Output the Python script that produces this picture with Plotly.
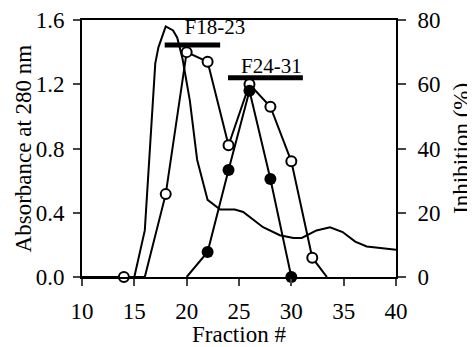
import plotly.graph_objects as go

# Absorbance at 280 nm (left axis)
abs_x = [10, 11, 12, 13, 14, 15, 16, 17, 17.3, 18, 18.7, 19.1, 19.6, 20.3, 21, 22, 23.2, 24.6, 25.4,
         27.3, 28.9, 30.2, 31.0, 32.4, 33.7, 34.9, 36.1, 37.2, 38.5, 40]
abs_y = [0, 0, 0, 0, 0, 0, 0.29, 1.33, 1.43, 1.56, 1.535, 1.49, 1.36, 1.10, 0.73, 0.48, 0.42, 0.42, 0.405,
         0.31, 0.26, 0.243, 0.243, 0.29, 0.31, 0.28, 0.22, 0.19, 0.18, 0.17]

# Inhibition (%) open circles (right axis)
open_x = [14, 18, 20, 22, 24, 26, 28, 30, 32]
open_y = [0, 25.8, 70, 67, 41, 60, 53, 36, 6]
open_line_x = [14, 16, 18, 20, 22, 24, 26, 28, 30, 32, 33.4]
open_line_y = [0, 0, 25.8, 70, 67, 41, 60, 53, 36, 6, 0]

# Inhibition (%) filled circles (right axis)
fill_x = [22, 24, 26, 28, 30]
fill_y = [7.8, 33.3, 58, 30.5, 0]
fill_line_x = [20, 22, 24, 26, 28, 30]
fill_line_y = [0, 7.8, 33.3, 58, 30.5, 0]

# Pooled fraction bars
bar_labels = ["F18-23", "F24-31"]
bar_start = [17.9, 23.95]
bar_end = [23.2, 31.1]
bar_level = [1.445, 1.24]
label_x = [22.7, 28.1]
label_y = [1.545, 1.30]

x_ticks = [10, 15, 20, 25, 30, 35, 40]
y_ticks = [0.0, 0.4, 0.8, 1.2, 1.6]
y2_ticks = [0, 20, 40, 60, 80]

x_title = "Fraction #"
y_title = "Absorbance at 280 nm"
y2_title = "Inhibition (%)"

FONT = "'Times New Roman', 'Liberation Serif', Times, serif"
FS = 23

fig = go.Figure()

fig.add_trace(go.Scatter(x=abs_x, y=abs_y, mode="lines",
                         line=dict(color="black", width=2), showlegend=False))

fig.add_trace(go.Scatter(x=open_line_x, y=open_line_y, mode="lines", yaxis="y2",
                         line=dict(color="black", width=2), showlegend=False))
fig.add_trace(go.Scatter(x=open_x, y=open_y, mode="markers", yaxis="y2",
                         marker=dict(symbol="circle", size=10, color="white",
                                     line=dict(color="black", width=2)),
                         showlegend=False, cliponaxis=False))

fig.add_trace(go.Scatter(x=fill_line_x, y=fill_line_y, mode="lines", yaxis="y2",
                         line=dict(color="black", width=2), showlegend=False))
fig.add_trace(go.Scatter(x=fill_x, y=fill_y, mode="markers", yaxis="y2",
                         marker=dict(symbol="circle", size=12, color="black"),
                         showlegend=False, cliponaxis=False))

for s, e, lv in zip(bar_start, bar_end, bar_level):
    fig.add_trace(go.Scatter(x=[s, e], y=[lv, lv], mode="lines",
                             line=dict(color="black", width=5), showlegend=False))

fig.add_trace(go.Scatter(x=label_x, y=label_y, mode="text", text=bar_labels,
                         textfont=dict(family=FONT, size=21, color="black"),
                         showlegend=False, cliponaxis=False))

# axis titles as annotations (paper coordinates)
fig.add_annotation(text=x_title, xref="paper", yref="paper", x=0.5, y=-0.225,
                   xanchor="center", yanchor="middle", showarrow=False,
                   font=dict(family=FONT, size=FS, color="black"))
fig.add_annotation(text=y_title, xref="paper", yref="paper", x=-0.185, y=0.5,
                   xanchor="center", yanchor="middle", showarrow=False, textangle=-90,
                   font=dict(family=FONT, size=FS, color="black"))
fig.add_annotation(text=y2_title, xref="paper", yref="paper", x=1.208, y=0.5,
                   xanchor="center", yanchor="middle", showarrow=False, textangle=-90,
                   font=dict(family=FONT, size=FS, color="black"))

fig.update_layout(
    width=467, height=339,
    margin=dict(l=74, r=79, t=12, b=70),
    paper_bgcolor="white", plot_bgcolor="white",
    font=dict(family=FONT, size=FS, color="black"),
    xaxis=dict(range=[10, 40], tickvals=x_ticks, ticks="outside", ticklen=7, tickwidth=2,
               showline=True, linewidth=2, linecolor="black", mirror=True,
               showgrid=False, zeroline=False, ticklabelstandoff=5, automargin=False),
    yaxis=dict(range=[0, 1.6], tickvals=y_ticks, ticktext=[f"{v:.1f}" for v in y_ticks],
               ticks="outside", ticklen=7, tickwidth=2,
               showline=True, linewidth=2, linecolor="black", automargin=False,
               showgrid=False, zeroline=False, ticklabelstandoff=4),
    yaxis2=dict(range=[0, 80], tickvals=y2_ticks, overlaying="y", side="right",
                ticks="outside", ticklen=8, tickwidth=2, automargin=False,
                showline=True, linewidth=2, linecolor="black",
                showgrid=False, zeroline=False, ticklabelstandoff=7),
)

fig.write_html("out.html")
